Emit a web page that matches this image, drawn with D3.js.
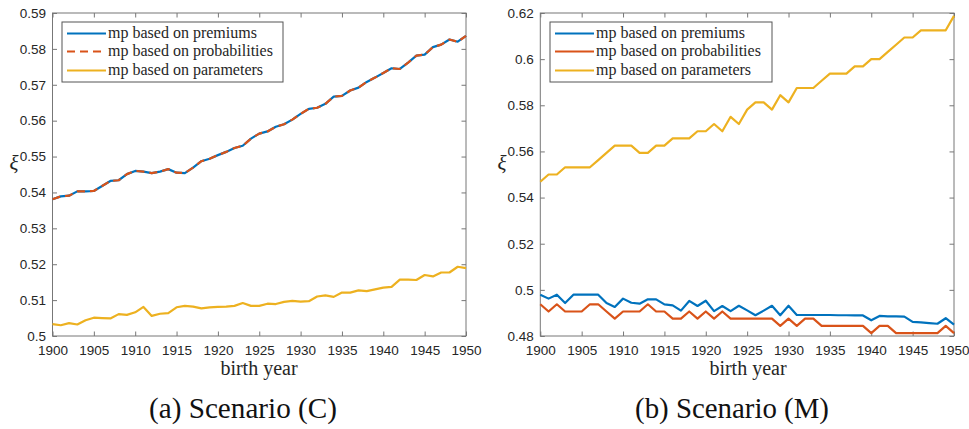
<!DOCTYPE html>
<html><head><meta charset="utf-8">
<script src="https://cdn.jsdelivr.net/npm/d3@7"></script>
<style>body{margin:0;background:#fff;} svg{display:block;}</style>
</head><body>
<svg id="chart" width="969" height="429"></svg>
<script>
// ---------- data ----------
const years = d3.range(1900, 1951);
const seriesNames = ["mp based on premiums", "mp based on probabilities", "mp based on parameters"];

// Scenario (C)
const cPremiums = [0.5381,0.5389,0.5391,0.5403,0.5403,0.5404,0.5418,0.5432,0.5434,0.5451,
  0.5460,0.5458,0.5454,0.5458,0.5465,0.5455,0.5454,0.5469,0.5487,0.5494,
  0.5504,0.5513,0.5524,0.5530,0.5550,0.5564,0.5570,0.5583,0.5590,0.5603,
  0.5619,0.5633,0.5636,0.5647,0.5667,0.5669,0.5684,0.5692,0.5708,0.5720,
  0.5733,0.5746,0.5744,0.5762,0.5781,0.5784,0.5805,0.5812,0.5826,0.5820,0.5836];
const cProbabilities = [0.5381,0.5389,0.5391,0.5403,0.5403,0.5404,0.5418,0.5432,0.5434,0.5451,
  0.5460,0.5458,0.5454,0.5458,0.5465,0.5455,0.5454,0.5469,0.5487,0.5494,
  0.5504,0.5513,0.5524,0.5530,0.5550,0.5564,0.5570,0.5583,0.5590,0.5603,
  0.5619,0.5633,0.5636,0.5647,0.5667,0.5669,0.5684,0.5692,0.5708,0.5720,
  0.5733,0.5746,0.5744,0.5762,0.5781,0.5784,0.5805,0.5812,0.5826,0.5820,0.5836];
const cParameters = [0.5033,0.5030,0.5036,0.5032,0.5044,0.5051,0.5050,0.5049,0.5061,0.5059,
  0.5066,0.5081,0.5056,0.5062,0.5064,0.5080,0.5084,0.5082,0.5077,0.5080,
  0.5081,0.5082,0.5084,0.5092,0.5084,0.5084,0.5090,0.5089,0.5095,0.5098,
  0.5096,0.5097,0.5110,0.5113,0.5109,0.5121,0.5121,0.5127,0.5125,0.5130,
  0.5135,0.5137,0.5157,0.5157,0.5156,0.5170,0.5166,0.5177,0.5177,0.5193,0.5189];

// Scenario (M)
const mPremiums = [0.4979,0.4962,0.4979,0.4943,0.4979,0.4979,0.4979,0.4979,0.4943,0.4926,
  0.4962,0.4944,0.4940,0.4959,0.4959,0.4937,0.4933,0.4910,0.4952,0.4930,
  0.4953,0.4908,0.4930,0.4908,0.4931,0.4911,0.4890,0.4910,0.4931,0.4890,
  0.4931,0.4891,0.4891,0.4891,0.4891,0.4891,0.4890,0.4890,0.4889,0.4889,
  0.4868,0.4887,0.4885,0.4885,0.4884,0.4861,0.4859,0.4856,0.4853,0.4877,0.4849];
const mProbabilities = [0.49375,0.490625,0.49375,0.490625,0.490625,0.490625,0.49375,0.49375,0.490625,0.4875,
  0.490625,0.490625,0.490625,0.49375,0.490625,0.490625,0.4875,0.4875,0.490625,0.4875,
  0.490625,0.4875,0.490625,0.4875,0.4875,0.4875,0.4875,0.4875,0.4875,0.484375,
  0.4875,0.484375,0.4875,0.4875,0.484375,0.484375,0.484375,0.484375,0.484375,0.484375,
  0.48125,0.484375,0.484375,0.48125,0.48125,0.48125,0.48125,0.48125,0.48125,0.484375,0.48125];
const mParameters = [0.546875,0.55,0.55,0.553125,0.553125,0.553125,0.553125,0.55625,0.559375,0.5625,
  0.5625,0.5625,0.559375,0.559375,0.5625,0.5625,0.565625,0.565625,0.565625,0.56875,
  0.56875,0.571875,0.56875,0.575,0.571875,0.578125,0.58125,0.58125,0.578125,0.584375,
  0.58125,0.5875,0.5875,0.5875,0.590625,0.59375,0.59375,0.59375,0.596875,0.596875,
  0.6,0.6,0.603125,0.60625,0.609375,0.609375,0.6125,0.6125,0.6125,0.6125,0.61875];

const xTicks = [1900,1905,1910,1915,1920,1925,1930,1935,1940,1945,1950];
const cYTicks = [0.5,0.51,0.52,0.53,0.54,0.55,0.56,0.57,0.58,0.59];
const mYTicks = [0.48,0.5,0.52,0.54,0.56,0.58,0.6,0.62];
const xLabel = "birth year";
const yLabel = "ξ";
const captions = ["(a) Scenario (C)", "(b) Scenario (M)"];

// ---------- drawing ----------
const colors = ["#0072BD", "#D95319", "#EDB120"];
const dashes = [null, "8,5", null];
const svg = d3.select("#chart");
const sansFont = "Liberation Sans";
const serifFont = "Liberation Serif";

function fitText(sel, target) {
  const w = sel.node().getComputedTextLength();
  const fs = parseFloat(sel.attr("font-size"));
  sel.attr("font-size", (fs * target / w).toFixed(2));
}

const panels = [
  {x0: 52.5, x1: 466, y0: 13, y1: 336, domain: [0.5, 0.59], yTicks: cYTicks,
   series: [cPremiums, cProbabilities, cParameters], labelCx: 259, capCx: 243,
   legend: {x: 62, y: 22, w: 221, h: 60}, xiX: 14},
  {x0: 540.3, x1: 954, y0: 13, y1: 336, domain: [0.48, 0.62], yTicks: mYTicks,
   series: [mPremiums, mProbabilities, mParameters], labelCx: 748, capCx: 732,
   legend: {x: 550, y: 22, w: 222, h: 60}, xiX: 502}
];

panels.forEach((p, pi) => {
  const x = d3.scaleLinear().domain([1900, 1950]).range([p.x0, p.x1]);
  const y = d3.scaleLinear().domain(p.domain).range([p.y1, p.y0]);
  const g = svg.append("g");
  const axisColor = "#777";
  const tl = 4.5;

  g.append("rect").attr("x", p.x0).attr("y", p.y0)
    .attr("width", p.x1 - p.x0).attr("height", p.y1 - p.y0)
    .attr("fill", "none").attr("stroke", axisColor).attr("stroke-width", 1);

  const xa = d3.axisBottom(x).tickValues(xTicks).tickFormat(d3.format("d")).tickSizeInner(-tl).tickSizeOuter(0);
  const gx = g.append("g").attr("transform", `translate(0,${p.y1})`).call(xa);
  const xt = d3.axisTop(x).tickValues(xTicks).tickFormat("").tickSizeInner(-tl).tickSizeOuter(0);
  const gxt = g.append("g").attr("transform", `translate(0,${p.y0})`).call(xt);
  const ya = d3.axisLeft(y).tickValues(p.yTicks).tickFormat(d => String(+d.toFixed(2))).tickSizeInner(-tl).tickSizeOuter(0);
  const gy = g.append("g").attr("transform", `translate(${p.x0},0)`).call(ya);
  const yr = d3.axisRight(y).tickValues(p.yTicks).tickFormat("").tickSizeInner(-tl).tickSizeOuter(0);
  const gyr = g.append("g").attr("transform", `translate(${p.x1},0)`).call(yr);
  [gx, gxt, gy, gyr].forEach(a => {
    a.select(".domain").remove();
    a.selectAll("line").attr("stroke", axisColor);
    a.selectAll("text").attr("fill", "#262626").attr("font-family", sansFont).attr("font-size", 13.5);
  });
  gx.selectAll("text").attr("dy", null).attr("y", 18.5);
  gy.selectAll("text").attr("x", -6.5);

  const clipId = "clip" + pi;
  svg.append("clipPath").attr("id", clipId).append("rect")
    .attr("x", p.x0 - 2).attr("y", p.y0 - 2).attr("width", p.x1 - p.x0 + 4).attr("height", p.y1 - p.y0 + 4);
  const line = d3.line().x((d, i) => x(years[i])).y(d => y(d));
  p.series.forEach((s, si) => {
    g.append("path").datum(s).attr("d", line)
      .attr("fill", "none").attr("stroke", colors[si]).attr("stroke-width", 2.2)
      .attr("stroke-linejoin", "round")
      .attr("clip-path", `url(#${clipId})`)
      .attr("stroke-dasharray", pi === 0 ? dashes[si] : null);
  });

  const L = p.legend;
  const lg = g.append("g");
  lg.append("rect").attr("x", L.x).attr("y", L.y).attr("width", L.w).attr("height", L.h)
    .attr("fill", "#fff").attr("stroke", "#555").attr("stroke-width", 1);
  const rowY = [33.5, 51.5, 70.5];
  seriesNames.forEach((name, si) => {
    lg.append("line").attr("x1", L.x + 5).attr("x2", L.x + 44)
      .attr("y1", rowY[si]).attr("y2", rowY[si])
      .attr("stroke", colors[si]).attr("stroke-width", 2.2)
      .attr("stroke-dasharray", pi === 0 ? dashes[si] : null);
    lg.append("text").attr("x", L.x + 46).attr("y", rowY[si] + 4.5)
      .attr("font-family", serifFont).attr("font-size", 16).attr("fill", "#262626").text(name);
  });

  svg.append("text").attr("x", p.labelCx).attr("y", 375).attr("text-anchor", "middle")
    .attr("font-family", serifFont).attr("font-size", 20).attr("fill", "#262626").text(xLabel);
  svg.append("text").attr("x", p.xiX).attr("y", 170).attr("text-anchor", "middle")
    .attr("font-family", serifFont).attr("font-style", "italic").attr("font-size", 21)
    .attr("fill", "#262626").text(yLabel);

  const cap = svg.append("text").attr("x", p.capCx).attr("y", 418).attr("text-anchor", "middle")
    .attr("font-family", serifFont).attr("font-size", 22).attr("fill", "#111").text(captions[pi]);
  fitText(cap, pi === 0 ? 188 : 194);
});
</script>
</body></html>
